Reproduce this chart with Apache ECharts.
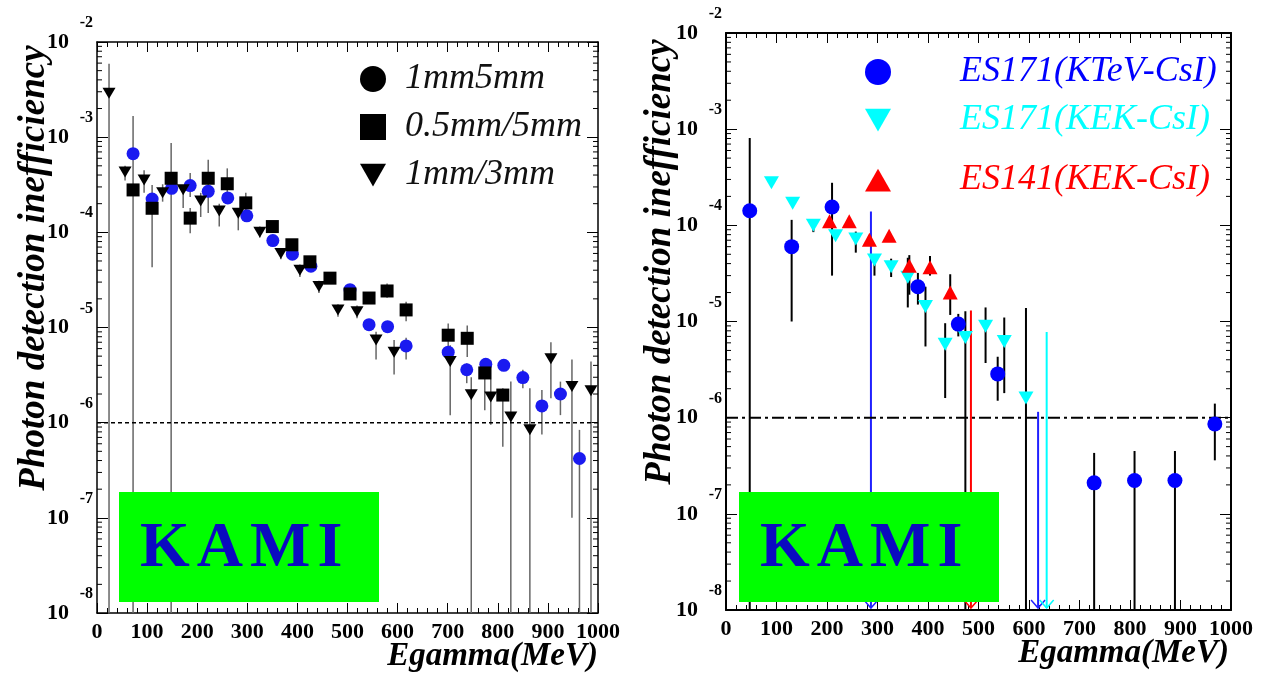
<!DOCTYPE html>
<html>
<head>
<meta charset="utf-8">
<script src="https://cdn.jsdelivr.net/npm/echarts@6/dist/echarts.min.js"></script>
<style>html,body{margin:0;padding:0;background:#fff}#main{width:1269px;height:674px}</style>
</head>
<body>
<div id="main"></div>
<script>
// left panel : prototype modules
var lCircX  = [72, 110, 149, 186, 222, 261, 299, 351, 390, 427, 505, 543, 580, 617, 701, 738, 776, 812, 850, 888, 925, 963];
var lCircY  = [6.7e-4, 2.24e-4, 2.9e-4, 3.1e-4, 2.7e-4, 2.3e-4, 1.49e-4, 8.2e-5, 5.9e-5, 4.4e-5, 2.5e-5, 1.07e-5, 1.02e-5, 6.4e-6, 5.5e-6, 3.6e-6, 4.1e-6, 4.0e-6, 2.98e-6, 1.5e-6, 2.0e-6, 4.2e-7];
var lCircLo = [null, null, null, 2.35e-4, null, null, null, null, null, null, null, null, null, 4.6e-6, null, 2.6e-6, null, null, 2.3e-6, 7.5e-7, 1.2e-6, 1e-8];
var lCircHi = [null, null, null, 4.2e-4, null, null, null, null, null, null, null, null, null, 7.8e-6, null, 4.2e-6, null, null, 3.6e-6, 2.2e-6, 2.7e-6, 8.4e-7];

var lSqX  = [72, 110, 148, 186, 222, 260, 297, 350, 389, 425, 465, 505, 543, 579, 617, 701, 739, 774, 810];
var lSqY  = [2.79e-4, 1.79e-4, 3.7e-4, 1.41e-4, 3.7e-4, 3.24e-4, 2.04e-4, 1.15e-4, 7.4e-5, 4.9e-5, 3.3e-5, 2.25e-5, 2.04e-5, 2.42e-5, 1.53e-5, 8.3e-6, 7.7e-6, 3.33e-6, 1.95e-6];
var lSqLo = [1e-8, 4.3e-5, 1e-8, 9.8e-5, 1.6e-4, 2.35e-4, 1.6e-4, null, null, null, null, null, null, 2.05e-5, 1.16e-5, 6.3e-6, 4.9e-6, 1.35e-6, 5.6e-7];
var lSqHi = [1.67e-3, 3.15e-4, 8.7e-4, 1.8e-4, 5.8e-4, 4.7e-4, 2.6e-4, null, null, null, null, null, null, 2.9e-5, 1.87e-5, 1.1e-5, 1.05e-5, 4.0e-6, 2.3e-6];

var lTriX  = [24, 56, 94, 131, 172, 207, 244, 282, 325, 367, 405, 443, 481, 519, 557, 593, 705, 747, 786, 826, 864, 906, 948, 986];
var lTriY  = [2.9e-3, 4.3e-4, 3.55e-4, 2.6e-4, 2.8e-4, 2.14e-4, 1.68e-4, 1.59e-4, 1.0e-4, 6.0e-5, 4.0e-5, 2.7e-5, 1.53e-5, 1.46e-5, 7.4e-6, 5.5e-6, 4.4e-6, 1.96e-6, 1.86e-6, 1.15e-6, 8.4e-7, 4.7e-6, 2.4e-6, 2.16e-6];
var lTriLo = [1e-8, 3.5e-4, 2.6e-4, 2.1e-4, 1.8e-4, 1.45e-4, 1.15e-4, 1.05e-4, 8.8e-5, 5.2e-5, 3.4e-5, 2.3e-5, 1.3e-5, 1.25e-5, 4.6e-6, 3.2e-6, 1.2e-6, 1e-8, 9.5e-7, 1e-8, 1e-8, 1.8e-6, 1.0e-7, 1e-8];
var lTriHi = [5.9e-3, 5.0e-4, 4.5e-4, 3.2e-4, 3.1e-4, 2.6e-4, 2.0e-4, 1.8e-4, 1.15e-4, 6.8e-5, 4.6e-5, 3.1e-5, 1.75e-5, 1.7e-5, 9.0e-6, 7.4e-6, 6.5e-6, 3.0e-6, 4.5e-6, 2.7e-6, 2.3e-6, 7.0e-6, 4.6e-6, 4.4e-6];

// right panel : ES171 / ES141
var rKtevX  = [47, 130, 210, 380, 460, 538, 729, 809, 889, 968];
var rKtevY  = [1.42e-4, 6.0e-5, 1.55e-4, 2.3e-5, 9.4e-6, 2.85e-6, 2.1e-7, 2.22e-7, 2.22e-7, 8.6e-7];
var rKtevLo = [1e-8, 1.0e-5, 3.0e-5, 1.5e-5, 7e-6, 1.5e-6, 1e-8, 1e-8, 1e-8, 3.6e-7];
var rKtevHi = [8.1e-4, 1.14e-4, 2.77e-4, 3.2e-5, 1.2e-5, 4.3e-6, 4.3e-7, 4.5e-7, 4.5e-7, 1.4e-6];
var rKtevLimX = [287, 618];
var rKtevLimY = [1.39e-4, 1.15e-6];

var rKekX  = [90, 132, 173, 217, 257, 294, 327, 360, 395, 434, 474, 514, 551, 594];
var rKekY  = [2.78e-4, 1.7e-4, 1.0e-4, 7.8e-5, 7.2e-5, 4.37e-5, 3.7e-5, 2.88e-5, 1.43e-5, 5.8e-6, 6.8e-6, 8.9e-6, 6.2e-6, 1.6e-6];
var rKekLo = [null, null, 8.5e-5, null, 5.2e-5, 3.0e-5, 2.9e-5, 1.4e-5, 5.5e-6, 1.6e-6, 1e-8, 3.7e-6, 1.8e-6, 1e-8];
var rKekHi = [null, null, 1.15e-4, null, 8.6e-5, 5.0e-5, 4.5e-5, 4.6e-5, 2.3e-5, 9.6e-6, 1.28e-5, 1.4e-5, 1.1e-5, 1.38e-5];
var rKekLimX = [635];
var rKekLimY = [7.8e-6];

var r141X  = [205, 244, 284, 323, 363, 404, 444];
var r141Y  = [1.1e-4, 1.1e-4, 7.1e-5, 7.8e-5, 3.8e-5, 3.67e-5, 2.0e-5];
var r141Lo = [null, null, null, null, 1.9e-5, 3.0e-5, 1.17e-5];
var r141Hi = [null, null, null, null, 4.9e-5, 4.8e-5, 3.1e-5];
var r141LimX = [485];
var r141LimY = [1.3e-5];

var xMin = 0, xMax = 1000, xStep = 100;
var yMin = 1e-8, yMax = 1e-2;
var yLimit = 1e-6;

var SERIF = 'Liberation Serif';
var TRI_DOWN = 'path://M0,0L16,0L8,14Z';
var TRI_UP = 'path://M8,0L16,14L0,14Z';

function pts(xs, ys) {
    var d = [];
    for (var i = 0; i < xs.length; i++) d.push([xs[i], ys[i]]);
    return d;
}

// vertical error bars
function errBars(xs, lo, hi, g, color, w) {
    var d = [];
    for (var i = 0; i < xs.length; i++) {
        if (lo[i] != null) d.push([xs[i], lo[i], hi[i]]);
    }
    return {
        type: 'custom', xAxisIndex: g * 2, yAxisIndex: g * 2, data: d, z: 2, silent: true,
        encode: {x: 0, y: [1, 2]},
        renderItem: function (p, api) {
            var a = api.coord([api.value(0), api.value(1)]);
            var b = api.coord([api.value(0), api.value(2)]);
            return {type: 'line', shape: {x1: a[0], y1: a[1], x2: b[0], y2: b[1]},
                style: {stroke: color, lineWidth: w}};
        }
    };
}

// upper limits drawn as arrows down to the axis
function limits(xs, ys, g, color) {
    return {
        type: 'custom', xAxisIndex: g * 2, yAxisIndex: g * 2, data: pts(xs, ys), z: 2, silent: true,
        renderItem: function (p, api) {
            var a = api.coord([api.value(0), api.value(1)]);
            var b = api.coord([api.value(0), yMin]);
            return {type: 'group', children: [
                {type: 'line', shape: {x1: a[0], y1: a[1], x2: b[0], y2: b[1] - 2}, style: {stroke: color, lineWidth: 2}},
                {type: 'polyline', shape: {points: [[b[0] - 7, b[1] - 10], [b[0], b[1] - 2], [b[0] + 7, b[1] - 10]]},
                    style: {stroke: color, lineWidth: 1.5, fill: null}}
            ]};
        }
    };
}

// horizontal reference line at the limit value
function limitLine(g, dash, w) {
    return {
        type: 'line', xAxisIndex: g * 2, yAxisIndex: g * 2, z: 3, silent: true, symbol: 'none',
        data: [[xMin, yLimit], [xMax, yLimit]],
        lineStyle: {color: '#000', width: w, type: dash}
    };
}

// log minor ticks (2..9 x 10^k) on both vertical sides
var minorVals = [];
for (var k = -8; k < -2; k++) {
    for (var m = 2; m <= 9; m++) minorVals.push([xMin, m * Math.pow(10, k)]);
}
function logMinor(g) {
    return {
        type: 'custom', xAxisIndex: g * 2, yAxisIndex: g * 2, data: minorVals, z: 3, silent: true,
        renderItem: function (p, api) {
            var l = api.coord([xMin, api.value(1)]);
            var r = api.coord([xMax, api.value(1)]);
            return {type: 'group', children: [
                {type: 'line', shape: {x1: l[0], y1: l[1], x2: l[0] + 5, y2: l[1]}, style: {stroke: '#000', lineWidth: 1}},
                {type: 'line', shape: {x1: r[0], y1: r[1], x2: r[0] - 5, y2: r[1]}, style: {stroke: '#000', lineWidth: 1}}
            ]};
        }
    };
}

function mkX(g, pos, labels, lw) {
    return {
        type: 'value', gridIndex: g, position: pos, min: xMin, max: xMax, interval: xStep,
        axisLine: {show: true, onZero: false, lineStyle: {color: '#000', width: lw}},
        axisTick: {show: true, inside: true, length: 10, lineStyle: {color: '#000', width: 1}},
        minorTick: {show: true, splitNumber: 5, length: 5, lineStyle: {color: '#000', width: 1}},
        splitLine: {show: false},
        axisLabel: {show: labels, margin: 8, fontFamily: SERIF, fontWeight: 'bold', fontSize: 22, color: '#000',
            formatter: function (v) { return String(v); }}
    };
}

function decade(v) {
    var e = Math.round(Math.log(v) / Math.LN10);
    return '{e|' + e + '}\n{b|10}{s| }\n{z| }';
}

function mkY(g, pos, labels, lw) {
    return {
        type: 'log', logBase: 10, gridIndex: g, position: pos, min: yMin, max: yMax, splitNumber: 6,
        axisLine: {show: true, onZero: false, lineStyle: {color: '#000', width: lw}},
        axisTick: {show: true, inside: true, length: 11, lineStyle: {color: '#000', width: 1}},
        minorTick: {show: false},
        splitLine: {show: false},
        axisLabel: {
            show: labels, margin: 4, formatter: decade,
            rich: {
                e: {fontFamily: SERIF, fontWeight: 'bold', fontSize: 16, lineHeight: 18, align: 'right', color: '#000'},
                b: {fontFamily: SERIF, fontWeight: 'bold', fontSize: 22, lineHeight: 20, color: '#000'},
                s: {width: 24, fontSize: 10, lineHeight: 20},
                z: {fontSize: 10, lineHeight: 18}
            }
        }
    };
}

function kamiText(x) {
    return {
        type: 'text', x: x, y: 549, z: 101,
        style: {
            text: '{k|K}{s| }{k|A}{s| }{k|M}{s| }{k|I}', align: 'left', verticalAlign: 'middle',
            rich: {
                k: {fontFamily: SERIF, fontWeight: 'bold', fontSize: 64, fill: '#0a0ac0'},
                s: {fontFamily: SERIF, fontSize: 28}
            }
        }
    };
}

var legText = {fontFamily: SERIF, fontStyle: 'italic', fontSize: 36, lineHeight: 40, color: '#111'};

var option = {
    animation: false,
    backgroundColor: '#fff',
    grid: [
        {left: 97, top: 42, width: 501, height: 571},
        {left: 726, top: 33, width: 505, height: 577}
    ],
    xAxis: [mkX(0, 'bottom', true, 1.5), mkX(0, 'top', false, 1.5), mkX(1, 'bottom', true, 2), mkX(1, 'top', false, 2)],
    yAxis: [mkY(0, 'left', true, 1.5), mkY(0, 'right', false, 1.5), mkY(1, 'left', true, 2), mkY(1, 'right', false, 2)],
    legend: [
        {orient: 'vertical', left: 360, top: 59, padding: 0, itemGap: 8, itemWidth: 26, itemHeight: 26,
            selectedMode: false,
            textStyle: Object.assign({padding: [0, 0, 0, 14]}, legText),
            data: [
                {name: '1mm5mm', icon: 'circle', itemStyle: {color: '#000'}},
                {name: '0.5mm/5mm', icon: 'rect', itemStyle: {color: '#000'}},
                {name: '1mm/3mm', icon: TRI_DOWN, itemStyle: {color: '#000'}}
            ]},
        {left: 865, top: 52, padding: 0, itemWidth: 26, itemHeight: 26, selectedMode: false,
            textStyle: Object.assign({}, legText, {color: '#0000ff', padding: [0, 0, 0, 64]}),
            data: [{name: 'ES171(KTeV-CsI)', icon: 'circle'}]},
        {left: 865, top: 100, padding: 0, itemWidth: 26, itemHeight: 24, selectedMode: false,
            textStyle: Object.assign({}, legText, {color: '#00ffff', padding: [0, 0, 0, 64]}),
            data: [{name: 'ES171(KEK-CsI)', icon: TRI_DOWN}]},
        {left: 865, top: 160, padding: 0, itemWidth: 26, itemHeight: 24, selectedMode: false,
            textStyle: Object.assign({}, legText, {color: '#ff0000', padding: [0, 0, 0, 64]}),
            data: [{name: 'ES141(KEK-CsI)', icon: TRI_UP}]}
    ],
    graphic: [
        {type: 'text', x: 34, y: 268, rotation: Math.PI / 2, z: 100,
            style: {text: 'Photon detection inefficiency', align: 'center', verticalAlign: 'middle',
                fontFamily: SERIF, fontStyle: 'italic', fontWeight: 'bold', fontSize: 37, fill: '#000'}},
        {type: 'text', x: 660, y: 262, rotation: Math.PI / 2, z: 100,
            style: {text: 'Photon detection inefficiency', align: 'center', verticalAlign: 'middle',
                fontFamily: SERIF, fontStyle: 'italic', fontWeight: 'bold', fontSize: 37, fill: '#000'}},
        {type: 'text', x: 598, y: 656, z: 100,
            style: {text: 'Egamma(MeV)', align: 'right', verticalAlign: 'middle',
                fontFamily: SERIF, fontStyle: 'italic', fontWeight: 'bold', fontSize: 33, fill: '#000'}},
        {type: 'text', x: 1229, y: 653, z: 100,
            style: {text: 'Egamma(MeV)', align: 'right', verticalAlign: 'middle',
                fontFamily: SERIF, fontStyle: 'italic', fontWeight: 'bold', fontSize: 33, fill: '#000'}},
        {type: 'rect', z: 100, shape: {x: 119, y: 492, width: 260, height: 110}, style: {fill: '#00ff00'}},
        {type: 'rect', z: 100, shape: {x: 739, y: 492, width: 260, height: 110}, style: {fill: '#00ff00'}},
        kamiText(140),
        kamiText(760)
    ],
    series: [
        logMinor(0),
        logMinor(1),
        limitLine(0, [4, 3], 1.5),
        limitLine(1, [12, 4, 3, 4], 2),
        errBars(lSqX, lSqLo, lSqHi, 0, '#666', 1.5),
        errBars(lTriX, lTriLo, lTriHi, 0, '#666', 1.5),
        errBars(lCircX, lCircLo, lCircHi, 0, '#666', 1.5),
        errBars(rKtevX, rKtevLo, rKtevHi, 1, '#000', 2),
        errBars(rKekX, rKekLo, rKekHi, 1, '#000', 2),
        errBars(r141X, r141Lo, r141Hi, 1, '#000', 2),
        limits(rKtevLimX, rKtevLimY, 1, '#2020ff'),
        limits(rKekLimX, rKekLimY, 1, '#00ffff'),
        limits(r141LimX, r141LimY, 1, '#ff0000'),
        {name: '1mm5mm', type: 'scatter', xAxisIndex: 0, yAxisIndex: 0, z: 4, symbol: 'circle', symbolSize: 13,
            itemStyle: {color: '#1a1af0', opacity: 1}, data: pts(lCircX, lCircY)},
        {name: '0.5mm/5mm', type: 'scatter', xAxisIndex: 0, yAxisIndex: 0, z: 5, symbol: 'rect', symbolSize: 13,
            itemStyle: {color: '#000', opacity: 1}, data: pts(lSqX, lSqY)},
        {name: '1mm/3mm', type: 'scatter', xAxisIndex: 0, yAxisIndex: 0, z: 5, symbol: TRI_DOWN, symbolSize: [13, 11],
            itemStyle: {color: '#000', opacity: 1}, data: pts(lTriX, lTriY)},
        {name: 'ES171(KTeV-CsI)', type: 'scatter', xAxisIndex: 2, yAxisIndex: 2, z: 5, symbol: 'circle', symbolSize: 15,
            itemStyle: {color: '#0000ff', opacity: 1}, data: pts(rKtevX, rKtevY)},
        {name: 'ES171(KEK-CsI)', type: 'scatter', xAxisIndex: 2, yAxisIndex: 2, z: 4, symbol: TRI_DOWN, symbolSize: [15, 13],
            itemStyle: {color: '#00ffff', opacity: 1}, data: pts(rKekX, rKekY)},
        {name: 'ES141(KEK-CsI)', type: 'scatter', xAxisIndex: 2, yAxisIndex: 2, z: 4, symbol: TRI_UP, symbolSize: [15, 14],
            itemStyle: {color: '#ff0000', opacity: 1}, data: pts(r141X, r141Y)}
    ]
};

var myChart = echarts.init(document.getElementById('main'));
myChart.setOption(option);
</script>
</body>
</html>
